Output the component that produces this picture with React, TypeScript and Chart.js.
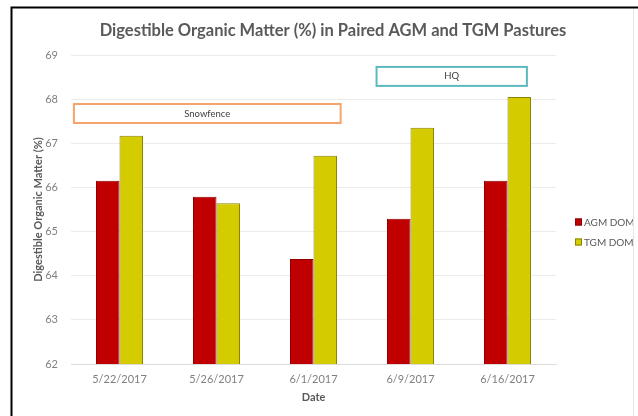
import React, { useEffect, useRef } from "react";
import { Chart, registerables } from "chart.js";

Chart.register(...registerables);

const chartTitle = "Digestible Organic Matter (%) in Paired AGM and TGM Pastures";
const categories = ["5/22/2017", "5/26/2017", "6/1/2017", "6/9/2017", "6/16/2017"];
const agmDom = [66.15, 65.79, 64.38, 65.29, 66.15];
const tgmDom = [67.17, 65.64, 66.72, 67.35, 68.05];
const seriesLabels = ["AGM DOM", "TGM DOM"];
const yMin = 62;
const yMax = 69;
const yStep = 1;

// annotation text boxes (in data units: category index range, value range)
const noteLabels = ["Snowfence", "HQ"];
const noteXRanges = [[-0.47, 2.28], [2.65, 4.2]];
const noteYRanges = [[67.46, 67.89], [68.3, 68.73]];
const noteColors = ["#F4A46C", "#5DB8BF"];

const FONT = "Lato, 'Open Sans', sans-serif";

const customPlugin = {
  id: "custom",
  beforeDraw(chart: any) {
    const ctx = chart.ctx;
    ctx.save();
    ctx.fillStyle = "#ffffff";
    ctx.fillRect(0, 0, chart.width, chart.height);
    ctx.restore();
  },
  afterDraw(chart: any) {
    const ctx = chart.ctx;
    const xs = chart.scales.x;
    const ys = chart.scales.y;
    ctx.save();
    // annotation boxes
    noteLabels.forEach((lab, i) => {
      const x1 = xs.getPixelForValue(noteXRanges[i][0]);
      const x2 = xs.getPixelForValue(noteXRanges[i][1]);
      const y1 = ys.getPixelForValue(noteYRanges[i][1]);
      const y2 = ys.getPixelForValue(noteYRanges[i][0]);
      ctx.fillStyle = "#ffffff";
      ctx.fillRect(x1, y1, x2 - x1, y2 - y1);
      ctx.strokeStyle = noteColors[i];
      ctx.lineWidth = 2;
      ctx.strokeRect(x1, y1, x2 - x1, y2 - y1);
      ctx.fillStyle = "#404040";
      ctx.font = `9.5px ${FONT}`;
      ctx.textAlign = "center";
      ctx.textBaseline = "middle";
      ctx.fillText(lab, (x1 + x2) / 2, (y1 + y2) / 2);
    });
    // title
    ctx.fillStyle = "#595959";
    ctx.font = `bold 16.5px ${FONT}`;
    ctx.textAlign = "center";
    ctx.textBaseline = "middle";
    ctx.fillText(chartTitle, 333, 31);
    // legend
    ctx.font = `10px ${FONT}`;
    ctx.textAlign = "left";
    chart.data.datasets.forEach((ds: any, i: number) => {
      const cy = 222 + i * 20;
      ctx.fillStyle = ds.backgroundColor;
      ctx.fillRect(575, cy - 3.5, 7, 7);
      ctx.strokeStyle = ds.borderColor;
      ctx.lineWidth = 1;
      ctx.strokeRect(575.5, cy - 3, 6, 6);
      ctx.fillStyle = "#595959";
      ctx.fillText(ds.label, 584, cy + 0.5);
    });
    // frame
    ctx.strokeStyle = "#000000";
    ctx.lineWidth = 2;
    ctx.beginPath();
    ctx.moveTo(11.5, chart.height);
    ctx.lineTo(11.5, 7.5);
    ctx.lineTo(chart.width, 7.5);
    ctx.stroke();
    ctx.strokeStyle = "#E6E6E6";
    ctx.lineWidth = 1;
    ctx.beginPath();
    ctx.moveTo(633.5, 9);
    ctx.lineTo(633.5, chart.height);
    ctx.stroke();
    ctx.restore();
  },
};

export default function App() {
  const ref = useRef<HTMLCanvasElement | null>(null);
  useEffect(() => {
    document.body.style.margin = "0";
    const chart = new Chart(ref.current as HTMLCanvasElement, {
      type: "bar",
      data: {
        labels: categories,
        datasets: [
          {
            label: seriesLabels[0],
            data: agmDom,
            backgroundColor: "#C00000",
            borderColor: "#8E0000",
            borderWidth: 1,
          },
          {
            label: seriesLabels[1],
            data: tgmDom,
            backgroundColor: "#D4CC00",
            borderColor: "#8A8400",
            borderWidth: 1,
          },
        ],
      },
      options: {
        responsive: false,
        animation: false,
        layout: { padding: { left: 12, top: 55, right: 82, bottom: 0 } },
        datasets: { bar: { barPercentage: 1, categoryPercentage: 0.485 } } as any,
        plugins: {
          legend: { display: false },
          title: { display: false },
          tooltip: { enabled: false },
        },
        scales: {
          x: {
            grid: { display: false, drawTicks: false },
            border: { display: true, color: "#DCDCDC" },
            ticks: { color: "#7F7F7F", font: { family: FONT, size: 11 }, padding: 9, maxRotation: 0 },
            title: {
              display: true,
              text: "Date",
              color: "#595959",
              font: { family: FONT, size: 11, weight: "bold" },
              padding: { top: 2, bottom: 12 },
            },
            afterFit: (s: any) => {
              s.height = 52;
            },
          },
          y: {
            min: yMin,
            max: yMax,
            grid: { color: "#EBEBEB", drawTicks: false },
            border: { display: false },
            ticks: { stepSize: yStep, color: "#7F7F7F", font: { family: FONT, size: 11 }, padding: 13 },
            title: {
              display: true,
              text: "Digestible Organic Matter (%)",
              color: "#595959",
              font: { family: FONT, size: 11, weight: "bold" },
              padding: { top: 20, bottom: 0 },
            },
            afterFit: (s: any) => {
              s.width = 59;
            },
          },
        },
      },
      plugins: [customPlugin],
    });
    return () => chart.destroy();
  }, []);
  return (
    <div style={{ width: 638, height: 416 }}>
      <canvas ref={ref} width={638} height={416} style={{ display: "block" }} />
    </div>
  );
}
